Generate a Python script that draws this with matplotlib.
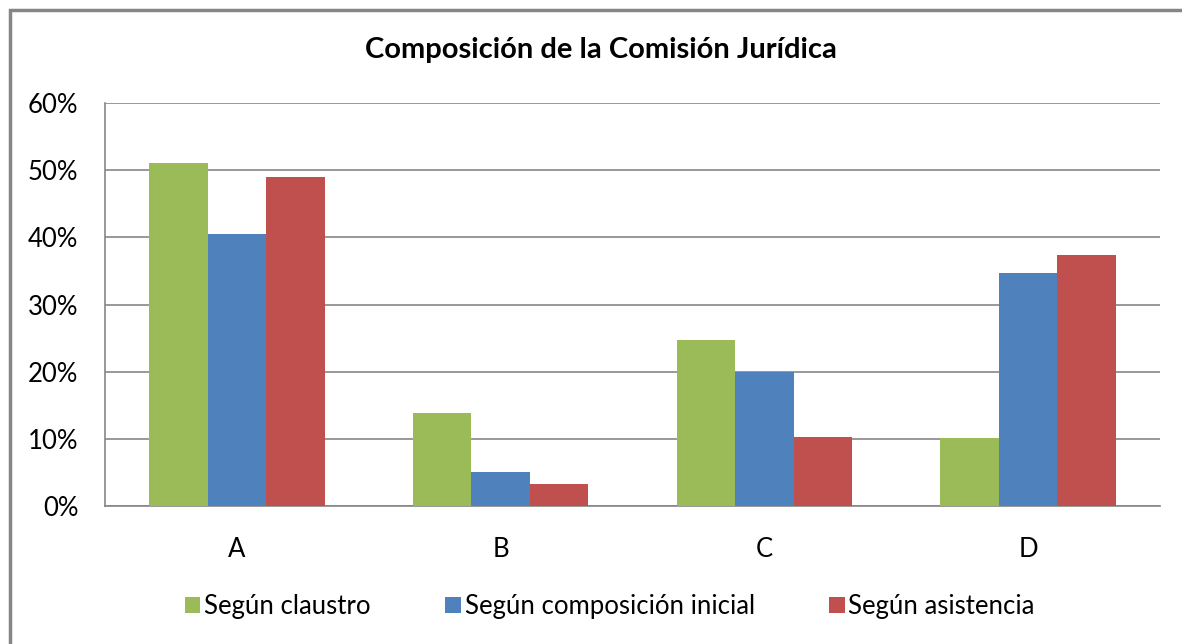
import matplotlib
matplotlib.use('Agg')
import matplotlib.pyplot as plt
import numpy as np
from matplotlib.patches import Rectangle
from matplotlib.ticker import FuncFormatter

plt.rcParams['font.family'] = ['Lato', 'DejaVu Sans']

# datos
categorias = ['A', 'B', 'C', 'D']
series = ['Según claustro', 'Según composición inicial', 'Según asistencia']
claustro = [51.0, 13.8, 24.7, 10.1]
composicion = [40.5, 5.0, 20.0, 34.7]
asistencia = [49.0, 3.3, 10.3, 37.4]
colores = ['#9BBB59', '#4F81BD', '#C0504D']

fig = plt.figure(figsize=(11.82, 6.44), dpi=100)
ax = fig.add_axes([0.0888, 0.2143, 0.8926, 0.6257])

x = np.arange(len(categorias))
ancho = 0.222
for i, (vals, nombre) in enumerate(zip([claustro, composicion, asistencia], series)):
    ax.bar(x + (i - 1) * ancho, vals, ancho, color=colores[i], label=nombre, zorder=3)

ax.set_xlim(-0.5, 3.5)
ax.set_ylim(0, 60)
ax.set_yticks(np.arange(0, 61, 10))
ax.yaxis.set_major_formatter(FuncFormatter(lambda v, p: f'{int(v)}%'))
ax.set_xticks(x)
ax.set_xticklabels(categorias)
ax.tick_params(axis='both', length=0, labelsize=18.5)
ax.tick_params(axis='y', pad=19)
ax.tick_params(axis='x', pad=22)
ax.grid(axis='y', color='#868686', linewidth=1.2, zorder=0)

for s in ['top', 'right']:
    ax.spines[s].set_visible(False)
ax.spines['left'].set_color('#868686')
ax.spines['bottom'].set_color('#868686')
ax.spines['left'].set_linewidth(1.2)
ax.spines['bottom'].set_linewidth(1.2)

fig.text(0.508, 0.922, 'Composición de la Comisión Jurídica', ha='center', va='center',
         fontsize=21, fontweight='bold')

fig.legend(loc='center', bbox_to_anchor=(0.516, 0.058), ncol=3, frameon=False,
           fontsize=18.5, handlelength=0.6, handleheight=0.6, handletextpad=0.15,
           columnspacing=2.9)

# marco exterior
fig.patches.append(Rectangle((10 / 1182, -0.1), 1.2, 1 - 10 / 644 + 0.1,
                             transform=fig.transFigure, fill=False,
                             edgecolor='#868686', linewidth=2.5))

fig.savefig('out.png', dpi=100)
